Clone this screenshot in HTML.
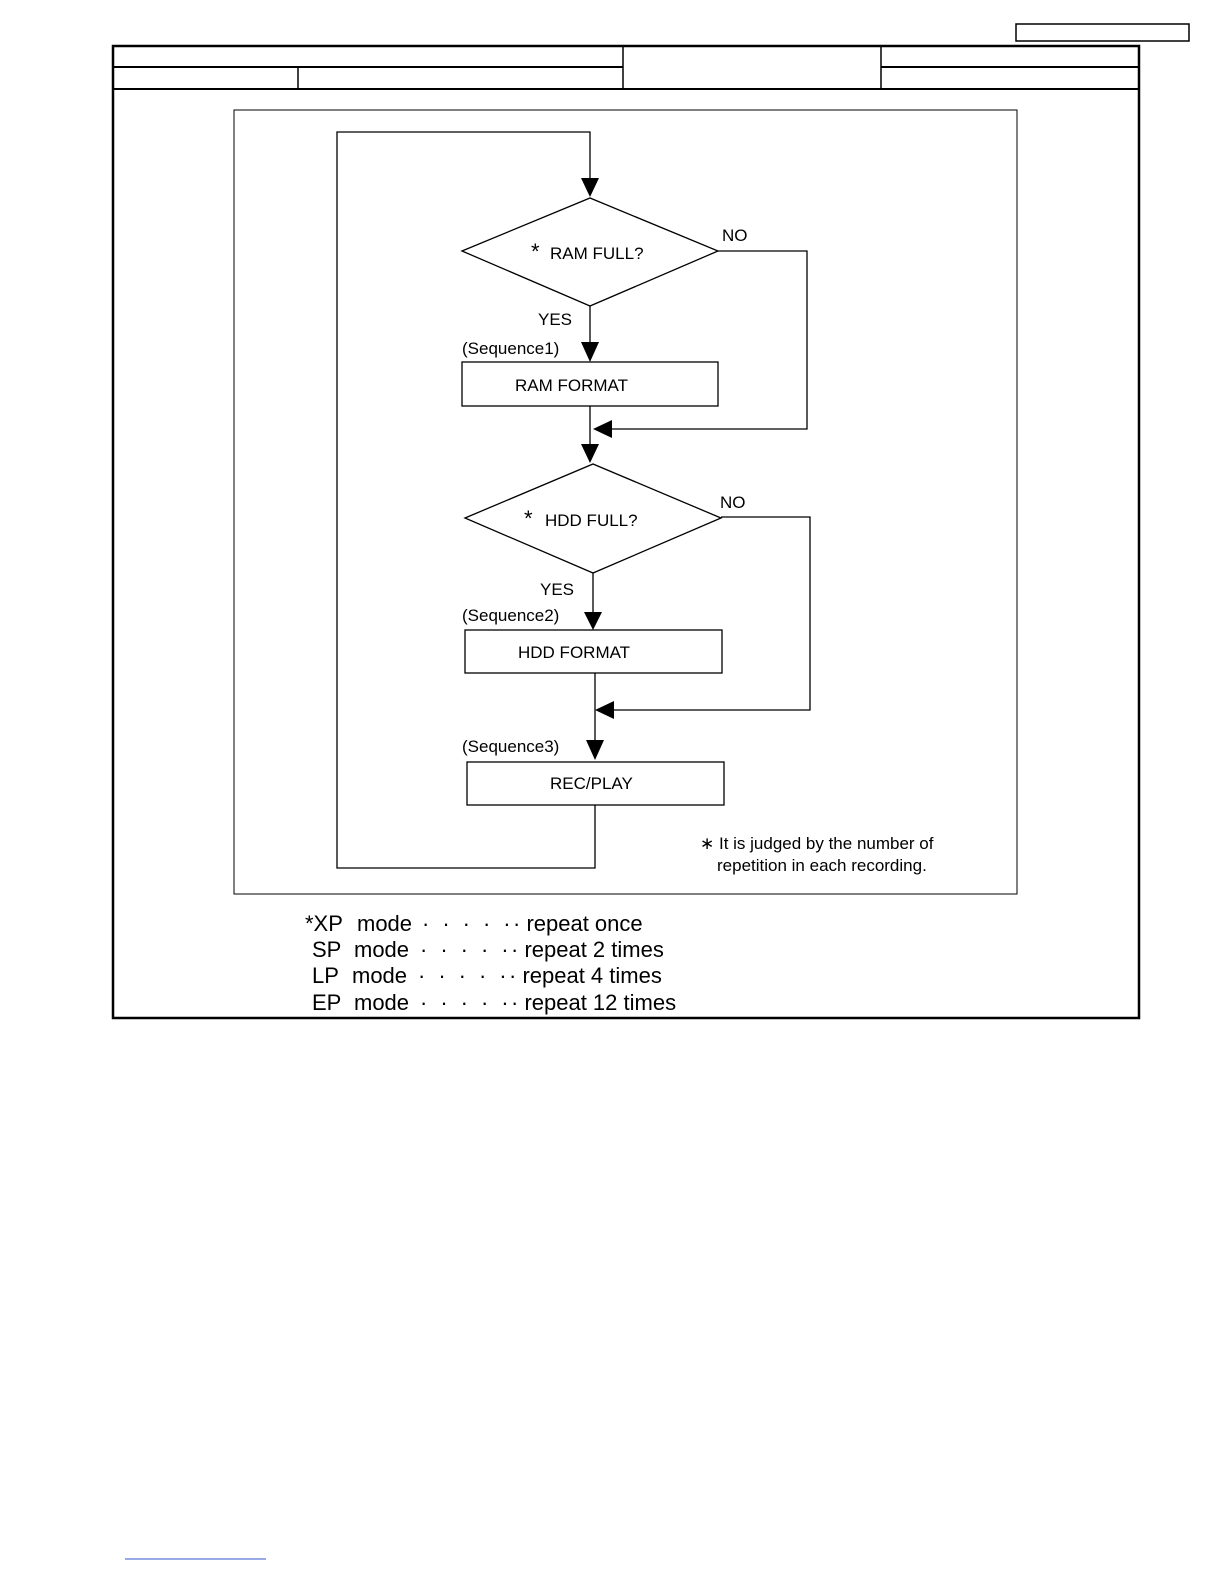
<!DOCTYPE html>
<html><head><meta charset="utf-8"><style>
html,body{margin:0;padding:0;background:#fff;overflow:hidden;width:1224px;height:1584px;}
svg{display:block;position:absolute;left:0;top:0;}
text{font-family:"Liberation Sans",sans-serif;fill:#000;}
</style></head><body>
<svg width="1224" height="1584" viewBox="0 0 1224 1584" xmlns="http://www.w3.org/2000/svg">
<g fill="none" stroke="#000">
<rect x="1016" y="24" width="173" height="17" stroke-width="1.5"/>
<rect x="113" y="46" width="1026" height="972" stroke-width="2.5"/>
<line x1="113" y1="67" x2="623" y2="67" stroke-width="2"/>
<line x1="881" y1="67" x2="1139" y2="67" stroke-width="2"/>
<line x1="113" y1="89" x2="1139" y2="89" stroke-width="2"/>
<line x1="298" y1="67" x2="298" y2="89" stroke-width="1.5"/>
<line x1="623" y1="46" x2="623" y2="89" stroke-width="1.5"/>
<line x1="881" y1="46" x2="881" y2="89" stroke-width="1.5"/>
<rect x="234" y="110" width="783" height="784" stroke-width="1"/>
<g stroke-width="1.3">
<polygon points="462,251 590,198 718,251 590,306"/>
<rect x="462" y="362" width="256" height="44"/>
<polygon points="465,518 593,464 721,518 593,573"/>
<rect x="465" y="630" width="257" height="43"/>
<rect x="467" y="762" width="257" height="43"/>
<polyline points="595,805 595,868 337,868 337,132 590,132 590,178"/>
<line x1="590" y1="306" x2="590" y2="342"/>
<polyline points="718,251 807,251 807,429 612,429"/>
<line x1="590" y1="406" x2="590" y2="444"/>
<line x1="593" y1="573" x2="593" y2="612"/>
<polyline points="721,517 810,517 810,710 614,710"/>
<line x1="595" y1="673" x2="595" y2="740"/>
</g>
</g>
<g fill="#000">
<path d="M581,178 L599,178 L590,197z"/>
<path d="M581,342 L599,342 L590,362z"/>
<path d="M612,420 L612,438 L593,429z"/>
<path d="M581,444 L599,444 L590,463z"/>
<path d="M584,612 L602,612 L593,630z"/>
<path d="M614,701 L614,719 L595,710z"/>
<path d="M586,740 L604,740 L595,760z"/>
</g>
<g font-size="17">
<text x="531" y="259" font-size="22">*</text><text x="550" y="259">RAM FULL?</text>
<text x="722" y="241">NO</text>
<text x="538" y="325">YES</text>
<text x="462" y="354">(Sequence1)</text>
<text x="515" y="391">RAM FORMAT</text>
<text x="524" y="526" font-size="22">*</text><text x="545" y="526">HDD FULL?</text>
<text x="720" y="508">NO</text>
<text x="540" y="595">YES</text>
<text x="462" y="621">(Sequence2)</text>
<text x="518" y="658">HDD FORMAT</text>
<text x="462" y="752">(Sequence3)</text>
<text x="550" y="789">REC/PLAY</text>
<text x="700" y="849">∗ It is judged by the number of</text>
<text x="717" y="871">repetition in each recording.</text>
</g>
<g font-size="22">
<text x="305" y="931">*XP</text><text x="357" y="931">mode</text><text x="422" y="931" letter-spacing="13">·····</text><text x="513" y="931">· repeat once</text>
<text x="312" y="957">SP</text><text x="354" y="957">mode</text><text x="420" y="957" letter-spacing="13">·····</text><text x="511" y="957">· repeat 2 times</text>
<text x="312" y="983">LP</text><text x="352" y="983">mode</text><text x="418" y="983" letter-spacing="13">·····</text><text x="509" y="983">· repeat 4 times</text>
<text x="312" y="1010">EP</text><text x="354" y="1010">mode</text><text x="420" y="1010" letter-spacing="13">·····</text><text x="511" y="1010">· repeat 12 times</text>
</g>
<line x1="125" y1="1559" x2="266" y2="1559" stroke="#3355cc" stroke-width="1"/>
</svg>
</body></html>
